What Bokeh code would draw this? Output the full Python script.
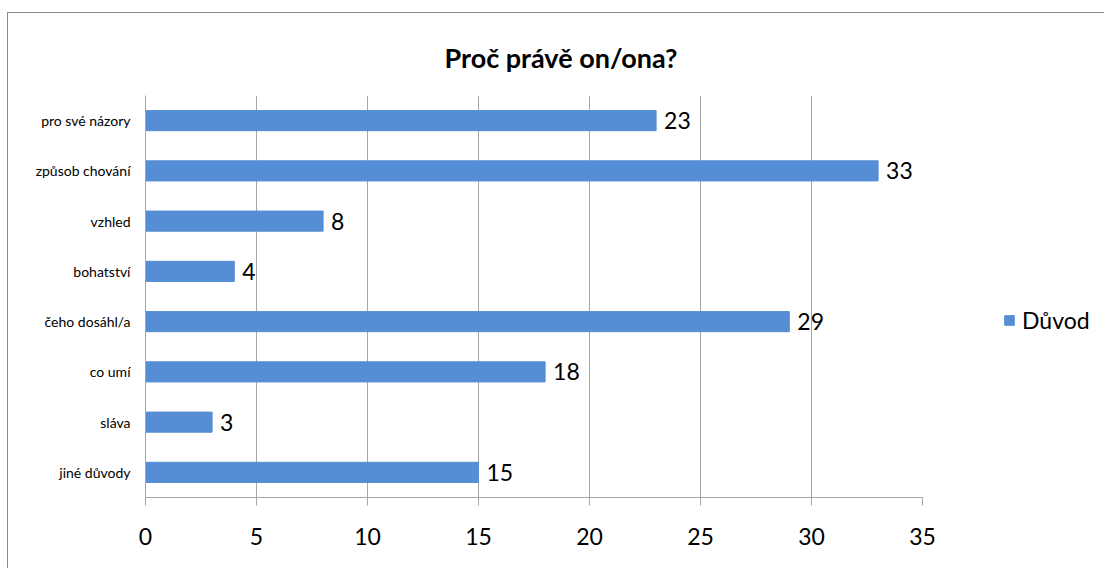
from bokeh.plotting import figure
from bokeh.models import (ColumnDataSource, LabelSet, Legend, LegendItem, FactorRange,
                          FixedTicker, Range1d)
from bokeh.core.properties import value
from bokeh.embed import file_html
from bokeh.resources import INLINE

categories = ["pro své názory", "způsob chování", "vzhled", "bohatství",
              "čeho dosáhl/a", "co umí", "sláva", "jiné důvody"]
values = [23, 33, 8, 4, 29, 18, 3, 15]
x_ticks = [0, 5, 10, 15, 20, 25, 30, 35]
series_name = "Důvod"
title_text = "Proč právě on/ona?"

FONT = "Lato"
BAR = "#558ED5"
GRID = "#A6A6A6"

# layout: the axis (0..35) spans 777 px; the frame is extended to the right
# so that the legend (drawn inside the frame area) is not clipped
AXIS_PX = 777
FRAME_W = 948
FRAME_H = 402
x_min, x_max_axis = x_ticks[0], x_ticks[-1]
x_max_frame = x_max_axis * FRAME_W / AXIS_PX

src = ColumnDataSource(dict(cat=categories, val=values, lbl=[str(v) for v in values]))

p = figure(frame_width=FRAME_W, frame_height=FRAME_H,
           y_range=FactorRange(factors=categories[::-1]),
           x_range=Range1d(x_min, x_max_frame),
           output_backend="svg", toolbar_location=None,
           min_border_left=137, min_border_right=11,
           min_border_top=82, min_border_bottom=71)
p.styles = {"border-left": "1px solid #8a8a8a", "border-top": "1px solid #8a8a8a",
            "margin-top": "12px", "margin-left": "7px"}
p.outline_line_color = None
p.background_fill_color = "white"
p.border_fill_color = "white"

r = p.hbar(y="cat", right="val", left=0, height=0.4, source=src,
           fill_color=BAR, line_color=BAR)

# title
p.title.text = title_text
p.title.align = "left"
p.title.offset = 299
p.title.text_font = FONT
p.title.text_font_size = "27px"
p.title.text_font_style = "bold"
p.title.text_color = "black"
p.title.standoff = 43

# axes
xa = p.xaxis[0]
xa.ticker = FixedTicker(ticks=x_ticks)
xa.bounds = (x_min, x_max_axis)
xa.axis_line_color = GRID
xa.major_tick_line_color = GRID
xa.major_tick_out = 8
xa.major_tick_in = 0
xa.minor_tick_line_color = None
xa.major_label_text_font = FONT
xa.major_label_text_font_size = "23px"
xa.major_label_text_color = "black"
xa.major_label_standoff = 22

ya = p.yaxis[0]
ya.axis_line_color = GRID
ya.major_tick_line_color = None
ya.minor_tick_line_color = None
ya.major_label_text_font = FONT
ya.major_label_text_font_size = "14px"
ya.major_label_text_color = "black"
ya.major_label_standoff = 9

p.ygrid.grid_line_color = None
p.xgrid.ticker = FixedTicker(ticks=x_ticks[:-1])
p.xgrid.grid_line_color = GRID

labels = LabelSet(x="val", y="cat", text="lbl", source=src, x_offset=8,
                  text_baseline="middle", text_align="left",
                  text_font=value(FONT), text_font_size=value("23px"),
                  text_color="black")
p.add_layout(labels)

legend = Legend(items=[LegendItem(label=series_name, renderers=[r])],
                location=(858, 163), orientation="vertical",
                glyph_width=12, glyph_height=12, label_standoff=7,
                padding=0, margin=0, border_line_color=None,
                background_fill_alpha=0,
                label_text_font=FONT, label_text_font_size="23px",
                label_text_color="black")
p.add_layout(legend, "center")

open("out.html", "w").write(file_html(p, INLINE))
